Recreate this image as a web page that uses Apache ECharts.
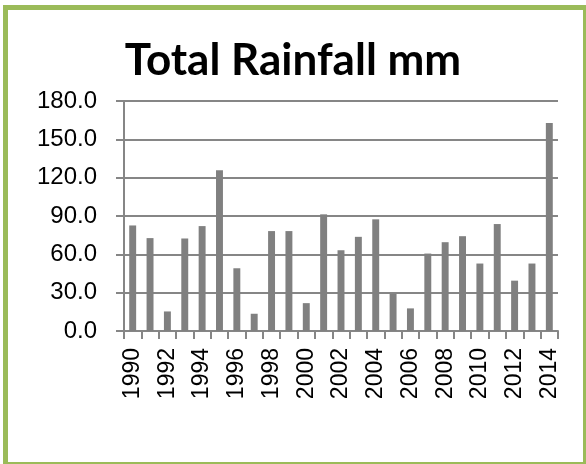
<!DOCTYPE html>
<html>
<head>
<meta charset="utf-8">
<script src="https://cdn.jsdelivr.net/npm/echarts@6/dist/echarts.min.js"></script>
<style>
  html, body { margin: 0; padding: 0; background: #fff; }
  #wrap { position: relative; width: 586px; height: 464px; overflow: hidden; }
  #BarChart { position: absolute; left: 0; top: 0; width: 586px; height: 464px; }
  #frame {
    position: absolute; left: 3px; top: 5px; width: 575px; height: 452px;
    border: 5px solid #9bbb59; pointer-events: none;
  }
</style>
</head>
<body>
<div id="wrap">
  <div id="BarChart"></div>
  <div id="frame"></div>
</div>
<script>
// data
const years = [
  "1990", "1991", "1992", "1993", "1994", "1995", "1996", "1997", "1998", "1999",
  "2000", "2001", "2002", "2003", "2004", "2005", "2006", "2007", "2008", "2009",
  "2010", "2011", "2012", "2013", "2014",
];
const rainfall = [
  82.6, 72.7, 15.3, 72.4, 82.1, 125.8, 49.1, 13.5, 78.2, 78.2,
  21.8, 91.3, 63.2, 73.7, 87.4, 29.2, 17.7, 60.6, 69.5, 74.2,
  52.8, 83.7, 39.4, 52.8, 162.8,
];
const titleText = "Total Rainfall mm";

const chart = echarts.init(document.getElementById("BarChart"));
const axisGray = "#868686";

const options = {
  animation: false,
  title: {
    text: titleText,
    left: "center",
    top: 34,
    textStyle: {
      fontFamily: "Lato",
      fontWeight: "bold",
      fontSize: 44,
      color: "#000",
    },
  },
  grid: {
    left: 124,
    right: 28,
    top: 101,
    bottom: 133,
  },
  xAxis: {
    type: "category",
    data: years,
    axisLine: { lineStyle: { color: axisGray, width: 2 } },
    axisTick: { show: true, length: 8, interval: 0, lineStyle: { color: axisGray, width: 2 } },
    axisLabel: {
      interval: 1,
      rotate: 90,
      margin: 17,
      fontFamily: "Liberation Sans",
      fontSize: 23,
      color: "#000",
    },
  },
  yAxis: {
    type: "value",
    min: 0,
    max: 180,
    interval: 30,
    axisLine: { show: true, lineStyle: { color: axisGray, width: 2 } },
    axisTick: { show: true, length: 8, lineStyle: { color: axisGray, width: 2 } },
    splitLine: { lineStyle: { color: axisGray, width: 2 } },
    axisLabel: {
      margin: 27,
      fontFamily: "Liberation Sans",
      fontSize: 24,
      color: "#000",
      formatter: (v) => v.toFixed(1),
    },
  },
  series: [
    {
      name: "Rainfall",
      type: "bar",
      data: rainfall,
      barWidth: "40%",
      itemStyle: { color: "#808080" },
    },
  ],
};
chart.setOption(options);
</script>
</body>
</html>
